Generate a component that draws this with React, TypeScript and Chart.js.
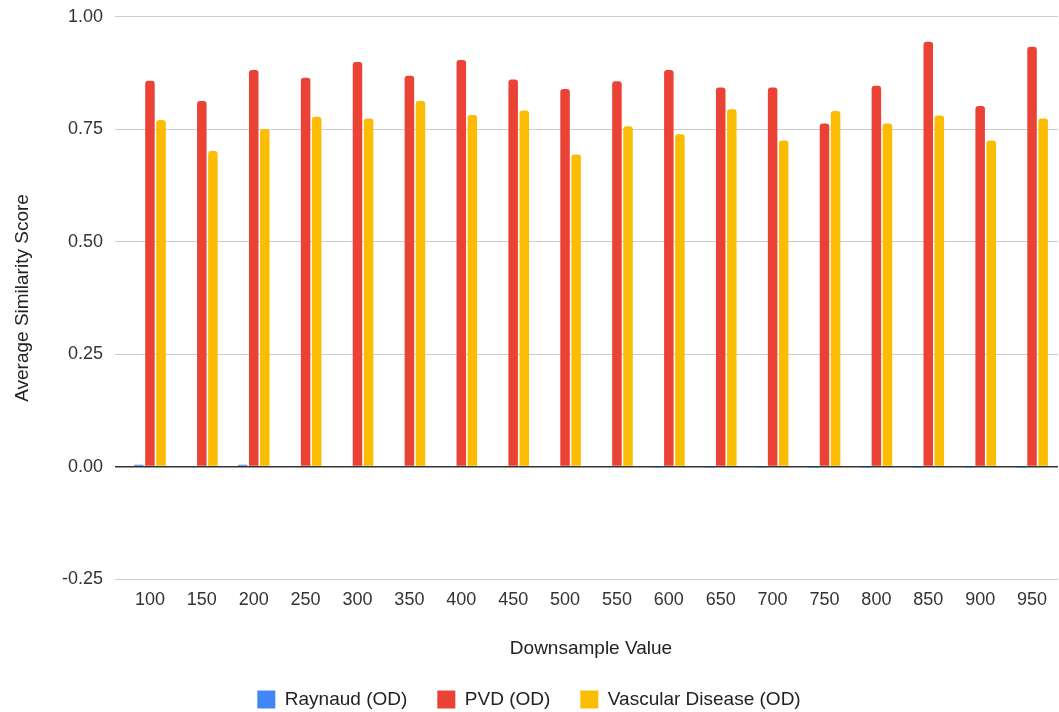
import React, { useEffect, useRef } from "react";
import { Chart, registerables } from "chart.js";

Chart.register(...registerables);

const categories = ["100", "150", "200", "250", "300", "350", "400", "450", "500", "550", "600", "650", "700", "750", "800", "850", "900", "950"];

const raynaud = [0.004, 0, 0.004, 0, 0, 0, 0, 0, 0, 0, -0.003, -0.003, -0.003, -0.003, -0.003, -0.003, -0.003, -0.003];

const pvd = [0.858, 0.813, 0.882, 0.865, 0.9, 0.869, 0.904, 0.861, 0.84, 0.857, 0.882, 0.843, 0.843, 0.763, 0.847, 0.945, 0.802, 0.934];

const vascular = [0.771, 0.702, 0.751, 0.778, 0.774, 0.813, 0.782, 0.792, 0.694, 0.757, 0.739, 0.795, 0.725, 0.791, 0.763, 0.781, 0.725, 0.774];

const yTicks = [-0.25, 0, 0.25, 0.5, 0.75, 1.0];

const FONT = "'Liberation Sans', Arial, sans-serif";

export default function App() {
  const canvasRef = useRef<HTMLCanvasElement | null>(null);

  useEffect(() => {
    const canvas = canvasRef.current;
    if (!canvas) return;
    const barStyle = {
      borderRadius: 3,
      borderSkipped: "start" as const,
      barPercentage: 0.86,
      categoryPercentage: 0.64,
    };
    const chart = new Chart(canvas, {
      type: "bar",
      data: {
        labels: categories,
        datasets: [
          { label: "Raynaud (OD)", data: raynaud, backgroundColor: "#4285F4", ...barStyle },
          { label: "PVD (OD)", data: pvd, backgroundColor: "#EA4335", ...barStyle },
          { label: "Vascular Disease (OD)", data: vascular, backgroundColor: "#FBBC04", ...barStyle },
        ],
      },
      options: {
        animation: false,
        responsive: false,
        maintainAspectRatio: false,
        layout: { padding: { top: 0, right: 1, left: 0, bottom: -7 } },
        plugins: {
          legend: {
            position: "bottom",
            labels: {
              font: { family: FONT, size: 19 },
              color: "#222",
              boxWidth: 18,
              boxHeight: 18,
              padding: 30,
            },
          },
          tooltip: { enabled: false },
        },
        scales: {
          x: {
            grid: { display: false },
            border: { display: false },
            ticks: {
              font: { family: FONT, size: 18 },
              color: "#333",
              padding: 2,
              maxRotation: 0,
            },
            title: {
              display: true,
              text: "Downsample Value",
              font: { family: FONT, size: 19 },
              color: "#222",
              padding: { top: 0, bottom: 0 },
            },
            afterFit: (scale: any) => {
              scale.height = 81;
            },
          },
          y: {
            min: -0.25,
            max: 1.0,
            afterBuildTicks: (scale: any) => {
              scale.ticks = yTicks.map((v) => ({ value: v }));
            },
            grid: {
              color: (ctx: any) => (ctx.tick && ctx.tick.value === 0 ? "#333333" : "#cccccc"),
              lineWidth: (ctx: any) => (ctx.tick && ctx.tick.value === 0 ? 1.5 : 1),
              drawTicks: true,
              tickLength: 9,
            },
            border: { display: false },
            ticks: {
              font: { family: FONT, size: 18, lineHeight: 0.55 },
              color: "#333",
              padding: 12,
              callback: (v: any) => Number(v).toFixed(2),
            },
            title: {
              display: true,
              text: "Average Similarity Score",
              font: { family: FONT, size: 19 },
              color: "#222",
              padding: { top: 11, bottom: 0 },
            },
            afterFit: (scale: any) => {
              scale.width = 124;
            },
          },
        },
      },
    });
    return () => chart.destroy();
  }, []);

  return (
    <div style={{ position: "fixed", left: 0, top: 0, width: 1059, height: 712, background: "#fff" }}>
      <canvas ref={canvasRef} width={1059} height={712} style={{ width: 1059, height: 712, display: "block" }} />
    </div>
  );
}
